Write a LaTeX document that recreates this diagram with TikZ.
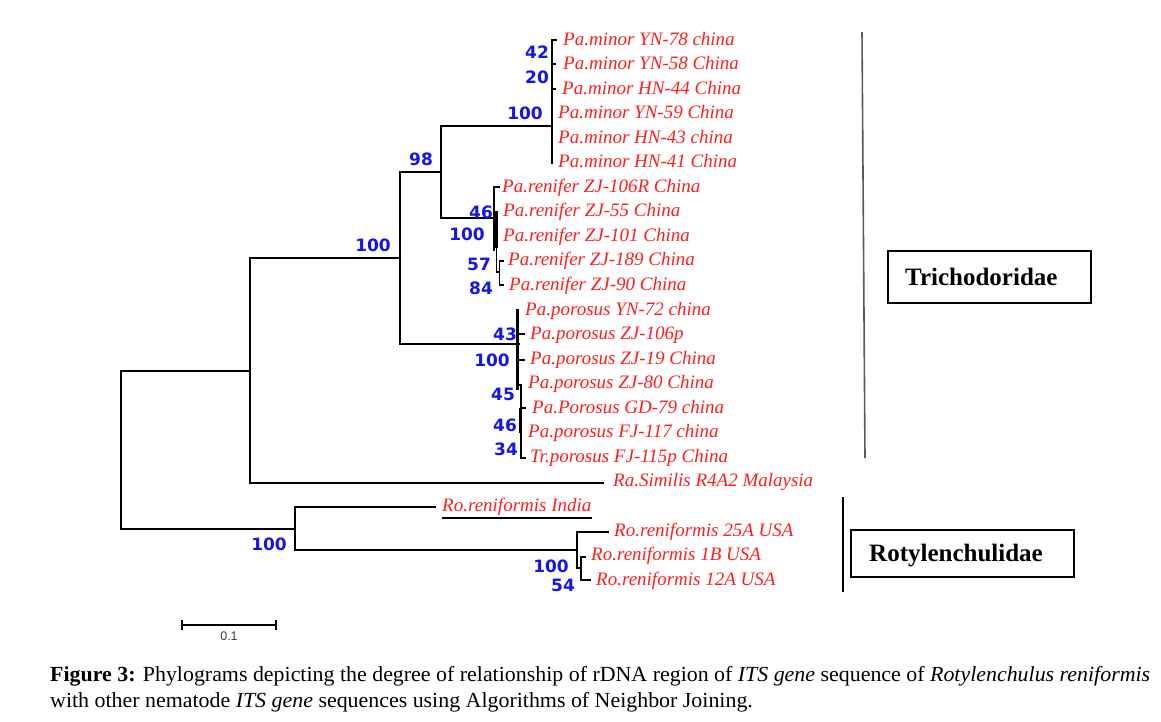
\documentclass[tikz,border=0pt]{standalone}
\usepackage{fontspec}
\setmainfont{Liberation Serif}
\newfontfamily\bootfont{DejaVu Sans}
\newfontfamily\barfont{Liberation Sans}
\usepackage{graphicx}
\definecolor{leafred}{RGB}{255,30,30}
\definecolor{bootblue}{RGB}{20,20,240}
\definecolor{linegray}{RGB}{90,90,90}
\definecolor{bargray}{RGB}{60,60,60}
\newsavebox\capboxa
\newsavebox\capboxb
\begin{document}
\begin{tikzpicture}[x=1pt,y=-1pt,
  br/.style={line width=2.6pt, line cap=rect, line join=miter},
  tk/.style={line width=1.8pt, line cap=rect, line join=miter},
  leaf/.style={text=leafred, font=\fontsize{19}{19}\selectfont\itshape, inner sep=0pt, anchor=base west},
  boot/.style={text=bootblue, font=\bootfont\bfseries\fontsize{17}{17}\selectfont, inner sep=0pt},
  gbox/.style={draw, line width=2pt, inner sep=0pt},
  glabel/.style={font=\fontsize{25}{25}\selectfont\bfseries, inner sep=0pt, anchor=base west}]
\useasboundingbox[fill=white] (0,0) rectangle (1161,721);

% leaves
\foreach \i/\x/\t in {0/563/{Pa.minor YN-78 china},1/563/{Pa.minor YN-58 China},2/562/{Pa.minor HN-44 China},
  3/558/{Pa.minor YN-59 China},4/558/{Pa.minor HN-43 china},5/558/{Pa.minor HN-41 China},
  6/502/{Pa.renifer ZJ-106R China},7/503/{Pa.renifer ZJ-55 China},8/503/{Pa.renifer ZJ-101 China},
  9/508/{Pa.renifer ZJ-189 China},10/509/{Pa.renifer ZJ-90 China},
  11/525/{Pa.porosus YN-72 china},12/530/{Pa.porosus ZJ-106p},13/530/{Pa.porosus ZJ-19 China},
  14/528/{Pa.porosus ZJ-80 China},15/532/{Pa.Porosus GD-79 china},16/528/{Pa.porosus FJ-117 china},
  17/530/{Tr.porosus FJ-115p China},18/613/{Ra.Similis R4A2 Malaysia},19/442/{Ro.reniformis India},
  20/614/{Ro.reniformis 25A USA},21/591/{Ro.reniformis 1B USA},22/596/{Ro.reniformis 12A USA}}
  \node[leaf] (L\i) at (\x,{45+24.55*\i}) {\t};

% underline of India
\draw[line width=2pt] ([yshift=-6.5pt]L19.base west) -- ([yshift=-6.5pt]L19.base east);

% internal node coordinates
\coordinate (R-a) at (121,371);
\coordinate (R-b) at (121,529);
\coordinate (N1-m) at (250,371);
\coordinate (N1-a) at (250,258);
\coordinate (N1-b) at (250,483);
\coordinate (N2-a) at (400,172);
\coordinate (N2-m) at (400,258);
\coordinate (N2-b) at (400,344);
\coordinate (N3-a) at (441,126);
\coordinate (N3-m) at (441,172);
\coordinate (N3-b) at (441,218);
\coordinate (M-a) at (552,40);
\coordinate (M-m) at (552,126);
\coordinate (M-b) at (552,163);
\coordinate (Ren-m) at (494,218);
\coordinate (Por-m) at (519,344);
\coordinate (Ra-end) at (603,483);
\coordinate (N4-a) at (295,507);
\coordinate (N4-m) at (295,529);
\coordinate (N4-b) at (295,550);
\coordinate (India-end) at (435,507);
\coordinate (U-a) at (577,532);
\coordinate (U-m) at (577,550);
\coordinate (U-b) at (577,568);
\coordinate (A25-end) at (608,532);

% branches
\draw[br] (N1-m) -- (R-a) -- (R-b) -- (N4-m);
\draw[br] (N1-a) -- (N1-b);
\draw[br] (N1-a) -- (N2-m);
\draw[br] (N2-a) -- (N2-b);
\draw[br] (N2-a) -- (N3-m);
\draw[br] (N3-a) -- (N3-b);
\draw[br] (N3-a) -- (M-m);
\draw[br] (M-a) -- (M-b);
\draw[br] (N3-b) -- (Ren-m);
\draw[br] (N2-b) -- (Por-m);
\draw[br] (N1-b) -- (Ra-end);
\draw[br] (N4-a) -- (N4-b);
\draw[br] (N4-a) -- (India-end);
\draw[br] (N4-b) -- (U-m);
\draw[br] (U-a) -- (U-b);
\draw[br] (U-a) -- (A25-end);

% minor clade ticks
\draw[tk] (M-a) -- ++(4,0);
\draw[tk] (552,64) -- ++(3,0);
\draw[tk] (552,89) -- ++(3,0);

% renifer clade
\draw[br] (494,187) -- (494,250);
\draw[tk] (494,187) -- ++(5,0);
\draw[line width=3.8pt] (495.8,211) -- (495.8,248);
\draw[tk] (496.5,248) -- (496.5,272) -- (499.5,272);
\draw[tk] (503,261) -- (499.5,261) -- (499.5,285) -- (503,285);

% porosus clade
\draw[line width=3pt, line cap=rect] (517.5,310) -- (517.5,388);
\draw[tk] (519,334) -- (524,334);
\draw[tk] (519,360) -- (524,360);
\draw[tk] (517.5,385) -- (521,385) -- (521,458) -- (525,458);
\draw[tk] (521,408) -- (525,408);
\draw[line width=2.6pt] (520,408) -- (520,433);

% Ro USA clade
\draw[tk] (U-b) -- (581,568);
\draw[tk] (585,557) -- (581,557) -- (581,580) -- (590,580);

% bootstrap values
\foreach \n/\x/\y/\v in {b1/537/52/42,b2/537/77/20,b3/525/113/100,b4/421/159/98,b5/373/245/100,
  b6/481/212/46,b7/467/234/100,b8/479/264/57,b9/481/288/84,
  b10/505/334/43,b11/492/360/100,b12/503/394/45,b13/505/425/46,b14/506/449/34,
  b15/269/544/100,b16/551/566/100,b17/563/585/54}
  \node[boot] (\n) at (\x,\y) {\v};

% group lines and boxes
\coordinate (G1-a) at (862,32);
\coordinate (G1-b) at (865,458);
\draw[linegray, line width=1.6pt] (G1-a) -- (G1-b);
\coordinate (G2-a) at (843,497);
\coordinate (G2-b) at (843,592);
\draw[line width=2pt] (G2-a) -- (G2-b);
\node[gbox, minimum width=203pt, minimum height=52pt] (tribox) at (989.5,277) {};
\node[glabel] (tri) at (905,285) {Trichodoridae};
\node[gbox, minimum width=223pt, minimum height=47pt] (rotbox) at (962.5,553.5) {};
\node[glabel] (rot) at (869,561) {Rotylenchulidae};

% scale bar
\coordinate (sb-a) at (182,625);
\coordinate (sb-b) at (276,625);
\draw[line width=2pt] (sb-a) -- (sb-b);
\draw[line width=2pt] (182,620) -- (182,630);
\draw[line width=2pt] (276,620) -- (276,630);
\node[text=bargray, font=\barfont\fontsize{12.5}{12.5}\selectfont, inner sep=0pt] (sbl) at (229,636) {0.1};

% caption
\node[inner sep=0pt, anchor=base west] (cap1) at (50,681) {%
  \sbox\capboxa{\fontsize{21.5}{21.5}\selectfont\textbf{Figure 3:} Phylograms depicting the degree of relationship of rDNA region of \textit{ITS gene} sequence of \textit{Rotylenchulus reniformis}}%
  \pgfmathsetmacro\capsc{1100/\wd\capboxa}%
  \global\let\capscg\capsc
  \scalebox{\capsc}[1]{\usebox\capboxa}};
\node[inner sep=0pt, anchor=base west] (cap2) at (50,707) {%
  \sbox\capboxb{\fontsize{21.5}{21.5}\selectfont with other nematode \textit{ITS gene} sequences using Algorithms of Neighbor Joining.}%
  \scalebox{\capscg}[1]{\usebox\capboxb}};
\end{tikzpicture}
\end{document}
